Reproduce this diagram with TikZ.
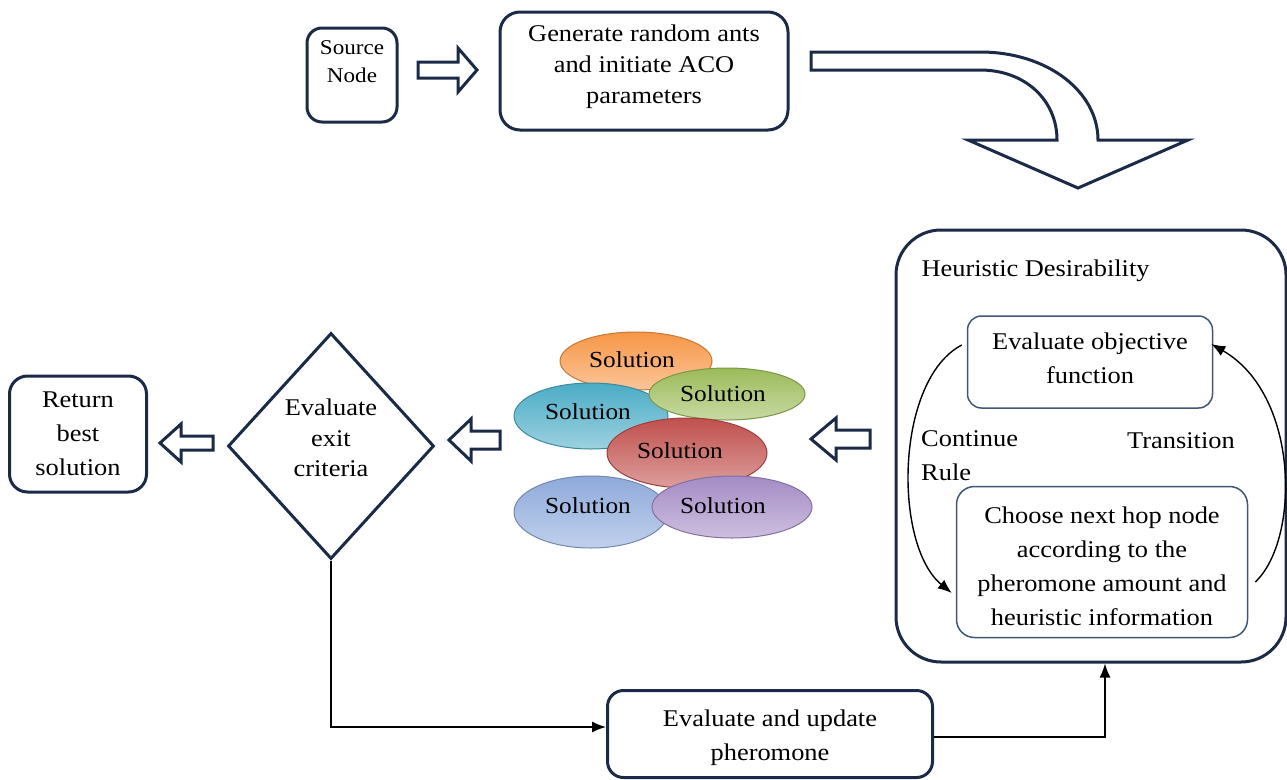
\documentclass[tikz,border=0pt]{standalone}
\usepackage{fontspec}
\setmainfont{Liberation Serif}[FakeStretch=1.1]
\usetikzlibrary{shapes.geometric,arrows.meta}
\definecolor{navy}{HTML}{1B2A47}
\definecolor{slate}{HTML}{3F5676}
\definecolor{solorange}{HTML}{F79646}
\definecolor{solgreen}{HTML}{9BBB59}
\definecolor{solcyan}{HTML}{4BACC6}
\definecolor{solred}{HTML}{C0504D}
\definecolor{solblue}{HTML}{8EAADB}
\definecolor{solpurple}{HTML}{A48BC5}
\tikzset{
  txt/.style={font=\fontsize{24}{34}\selectfont, align=center},
  mainbox/.style={draw=navy, line width=3pt, rounded corners=#1, txt, inner sep=0pt},
  innerbox/.style={draw=slate, line width=1.5pt, rounded corners=14pt, txt, inner sep=0pt},
  blockarrow/.style={draw=navy, line width=3pt, fill=white, line join=miter},
  conn/.style={draw=black, line width=1.4pt, -{Latex[length=14pt,width=11pt]}},
  sol/.style={ellipse, draw=#1!80!black, line width=1pt, top color=#1, bottom color=#1!55!white,
              inner sep=0pt},
  soltxt/.style={font=\fontsize{23}{28}\selectfont, text=black}
}
\begin{document}
\begin{tikzpicture}[x=1pt, y=-1pt]
\useasboundingbox (0,0) rectangle (1287,779);

% top row
\node[mainbox=15pt, minimum width=90pt, minimum height=94pt, font=\fontsize{21}{28}\selectfont]
  (src) at (352,75) {Source\\Node\\[-2pt]};
\node[mainbox=20pt, minimum width=288pt, minimum height=118pt] (gen) at (644,71) {};
\node[txt, font=\fontsize{24}{31}\selectfont] (gentxt) at (644,67)
  {Generate random ants\\and initiate ACO\\parameters};

% block arrow source -> generate
\draw[blockarrow] (418,62) -- (458,62) -- (458,48) -- (477,70) -- (458,92) -- (458,78) -- (418,78) -- cycle;

% bent block arrow down to the heuristic block
\draw[blockarrow] (811,52) -- (980,52)
  .. controls (1048,52) and (1098,92) .. (1098,140)
  -- (1188,140) -- (1078,188) -- (968,140) -- (1057,140)
  .. controls (1057,100) and (1025,70) .. (980,70)
  -- (811,70) -- cycle;

% heuristic desirability block
\node[mainbox=45pt, minimum width=390pt, minimum height=432pt] (heur) at (1091,446) {};
\node[txt, anchor=west] (heurlbl) at (918,271) {Heuristic Desirability};
\node[innerbox, minimum width=245pt, minimum height=92pt] (obj) at (1090,362) {};
\node[txt] (objtxt) at (1090,358) {Evaluate objective\\function};
\node[innerbox, minimum width=291pt, minimum height=151pt, rounded corners=18pt] (choose) at (1102,562) {};
\node[txt] (choosetxt) at (1102,566)
  {Choose next hop node\\according to the\\pheromone amount and\\heuristic information};
\node[txt, anchor=north west, align=left, inner sep=0pt] (cont) at (921,430) {Continue\\Rule};
\node[txt, anchor=west, inner sep=0pt] (trans) at (1127,441) {Transition};

\draw[conn] ([xshift=-5pt,yshift=17pt]obj.west)
  .. controls (895,380) and (893,545) .. ([xshift=-4pt,yshift=-31pt]choose.west);
\draw[conn] ([xshift=7pt,yshift=-20pt]choose.east)
  .. controls (1300,540) and (1300,395) .. ([xshift=-2pt,yshift=18pt]obj.east);

% solutions cluster
\node[sol=solorange, minimum width=152pt, minimum height=58pt] (s1) at (636,361) {};
\node[sol=solcyan, minimum width=154pt, minimum height=66pt] (s3) at (591,416) {};
\node[sol=solgreen, minimum width=156pt, minimum height=52pt] (s2) at (727,394) {};
\node[sol=solblue, minimum width=154pt, minimum height=72pt] (s5) at (591,512) {};
\node[sol=solred, minimum width=160pt, minimum height=70pt] (s4) at (687,453) {};
\node[sol=solpurple, minimum width=160pt, minimum height=62pt] (s6) at (732,507) {};
\node[soltxt] (t1) at (632,360) {Solution};
\node[soltxt] (t3) at (588,412) {Solution};
\node[soltxt] (t2) at (723,394) {Solution};
\node[soltxt] (t4) at (680,451) {Solution};
\node[soltxt] (t5) at (588,506) {Solution};
\node[soltxt] (t6) at (723,506) {Solution};

% left-pointing block arrows
\draw[blockarrow] (870,430) -- (836,430) -- (836,418) -- (811,439) -- (836,460) -- (836,448) -- (870,448) -- cycle;
\draw[blockarrow] (500,431) -- (471,431) -- (471,419) -- (449,440) -- (471,461) -- (471,449) -- (500,449) -- cycle;
\draw[blockarrow] (213,436) -- (181,436) -- (181,424) -- (160,443) -- (181,462) -- (181,450) -- (213,450) -- cycle;

% exit decision and result
\node[diamond, draw=navy, line width=3pt, minimum width=206pt, minimum height=226pt, inner sep=0pt]
  (dia) at (331,446) {};
\node[txt, font=\fontsize{24}{30.5}\selectfont] (diatxt) at (331,438) {Evaluate\\exit\\criteria};
\node[mainbox=18pt, minimum width=137pt, minimum height=116pt] (ret) at (78,434)
  {Return\\best\\solution};

% pheromone update loop
\node[mainbox=16pt, minimum width=325pt, minimum height=87pt] (upd) at (770,734) {};
\node[txt] (updtxt) at (770,738) {Evaluate and update\\pheromone};
\draw[conn] (dia.south) |- ([yshift=7pt]upd.west);
\draw[conn] ([yshift=-3pt]upd.east) -| ([xshift=14pt]heur.south);
\end{tikzpicture}
\end{document}
